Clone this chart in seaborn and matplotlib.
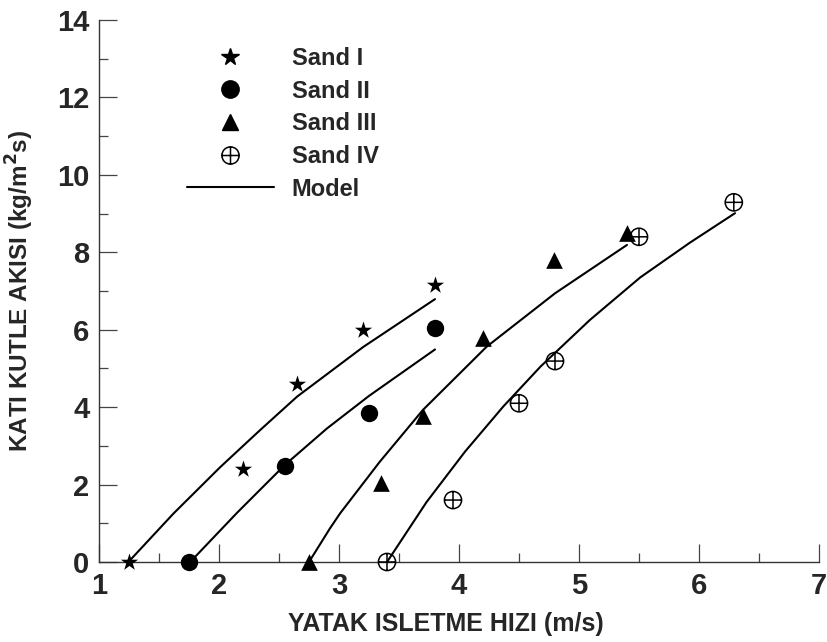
import numpy as np
import pandas as pd
import matplotlib
matplotlib.use("Agg")
from matplotlib import pyplot as plt
from matplotlib.path import Path
from matplotlib.lines import Line2D
from matplotlib.font_manager import FontProperties
import seaborn as sns

# measured points
sand_names = ["Sand I", "Sand II", "Sand III", "Sand IV"]
sand1_x = [1.25, 2.20, 2.65, 3.20, 3.80]
sand1_y = [0.00, 2.40, 4.60, 6.00, 7.16]
sand2_x = [1.75, 2.55, 3.25, 3.80]
sand2_y = [0.00, 2.49, 3.84, 6.05]
sand3_x = [2.75, 3.35, 3.70, 4.20, 4.79, 5.40]
sand3_y = [0.00, 2.03, 3.76, 5.78, 7.80, 8.49]
sand4_x = [3.40, 3.95, 4.50, 4.80, 5.50, 6.29]
sand4_y = [0.00, 1.60, 4.10, 5.19, 8.40, 9.29]

# model curves
model1_x = [1.245, 1.62, 2.01, 2.34, 2.65, 3.20, 3.80]
model1_y = [0.00, 1.25, 2.45, 3.40, 4.27, 5.55, 6.79]
model2_x = [1.76, 2.15, 2.55, 2.90, 3.25, 3.80]
model2_y = [0.00, 1.27, 2.51, 3.45, 4.29, 5.49]
model3_x = [2.75, 2.925, 3.01, 3.34, 3.70, 4.23, 4.80, 5.40]
model3_y = [0.00, 0.87, 1.26, 2.59, 3.93, 5.56, 6.94, 8.19]
model4_x = [3.40, 3.73, 4.05, 4.37, 4.68, 5.09, 5.51, 5.925, 6.30]
model4_y = [0.00, 1.55, 2.85, 4.02, 5.05, 6.25, 7.35, 8.25, 9.01]

x_ticks = [1, 2, 3, 4, 5, 6, 7]
y_ticks = [0, 2, 4, 6, 8, 10, 12, 14]

sns.set_style("ticks")
plt.rcParams["font.family"] = ["Liberation Sans", "DejaVu Sans"]
plt.rcParams["font.weight"] = "bold"
plt.rcParams["axes.labelweight"] = "bold"
plt.rcParams["mathtext.default"] = "bf"

# circle with a cross inside, for Sand IV
oplus = Path.make_compound_path(
    Path.unit_circle(),
    Path([[-1, 0], [1, 0]], [Path.MOVETO, Path.LINETO]),
    Path([[0, -1], [0, 1]], [Path.MOVETO, Path.LINETO]),
)

points = pd.concat([
    pd.DataFrame({"x": xs, "y": ys, "sand": name})
    for name, xs, ys in zip(sand_names,
                            [sand1_x, sand2_x, sand3_x, sand4_x],
                            [sand1_y, sand2_y, sand3_y, sand4_y])
])
models = pd.concat([
    pd.DataFrame({"x": xs, "y": ys, "sand": name})
    for name, xs, ys in zip(sand_names,
                            [model1_x, model2_x, model3_x, model4_x],
                            [model1_y, model2_y, model3_y, model4_y])
])

fig = plt.figure(figsize=(8.28, 6.42), dpi=100)
ax = fig.add_axes([99 / 828, 80 / 642, 720 / 828, 542 / 642])

for name in sand_names:
    sns.lineplot(data=models[models["sand"] == name], x="x", y="y", ax=ax,
                 color="black", linewidth=1.5, sort=False, estimator=None)

styles = {
    "Sand I": dict(marker="*", s=13 ** 2, color="black", linewidth=0),
    "Sand II": dict(marker="o", s=12.5 ** 2, color="black", linewidth=0),
    "Sand III": dict(marker="^", s=12 ** 2, color="black", linewidth=0),
    "Sand IV": dict(marker=oplus, s=12.4 ** 2, facecolors="none",
                    edgecolors="black", linewidths=1.1),
}
for name in sand_names:
    sns.scatterplot(data=points[points["sand"] == name], x="x", y="y", ax=ax,
                    zorder=3, clip_on=False, **styles[name])

ax.set_xlim(1, 7)
ax.set_ylim(0, 14)
ax.set_xticks(x_ticks)
ax.set_yticks(y_ticks)
ax.set_xticks(np.arange(1.5, 7, 1), minor=True)
ax.set_yticks(np.arange(1, 14, 2), minor=True)
ax.tick_params(which="major", direction="in", length=13, width=0.9,
               color="#444444", labelsize=21, pad=7)
ax.tick_params(which="minor", direction="in", length=6.5, width=0.9,
               color="#444444")
for lab in ax.get_xticklabels() + ax.get_yticklabels():
    lab.set_fontweight("bold")
sns.despine(ax=ax)
for sp in ["left", "bottom"]:
    ax.spines[sp].set_linewidth(1.0)
    ax.spines[sp].set_color("#333333")

ax.set_xlabel("YATAK ISLETME HIZI (m/s)", fontsize=18, fontweight="bold")
ax.set_ylabel("KATI KUTLE AKISI (kg/m$^\\mathbf{2}$s)", fontsize=17.5,
              fontweight="bold")
ax.xaxis.set_label_coords(0.482, -0.092)
ax.yaxis.set_label_coords(-0.087, 0.5)

handles = [
    Line2D([], [], ls="none", marker="*", ms=13, color="black"),
    Line2D([], [], ls="none", marker="o", ms=12.5, color="black"),
    Line2D([], [], ls="none", marker="^", ms=12, color="black"),
    Line2D([], [], ls="none", marker=oplus, ms=12.4, mfc="none", mec="black",
           mew=1.1),
    Line2D([], [], color="black", lw=1.5),
]
leg_font = FontProperties(family=["Liberation Sans", "DejaVu Sans"],
                          weight="bold", size=17)
ax.legend(handles, sand_names + ["Model"], loc="upper left",
          bbox_to_anchor=(186.7 / 828, 1 - 47 / 642),
          bbox_transform=fig.transFigure, frameon=False, borderpad=0,
          borderaxespad=0, handlelength=3.7, handletextpad=0.74,
          labelspacing=0.41, prop=leg_font)

fig.savefig("out.png", dpi=100)
